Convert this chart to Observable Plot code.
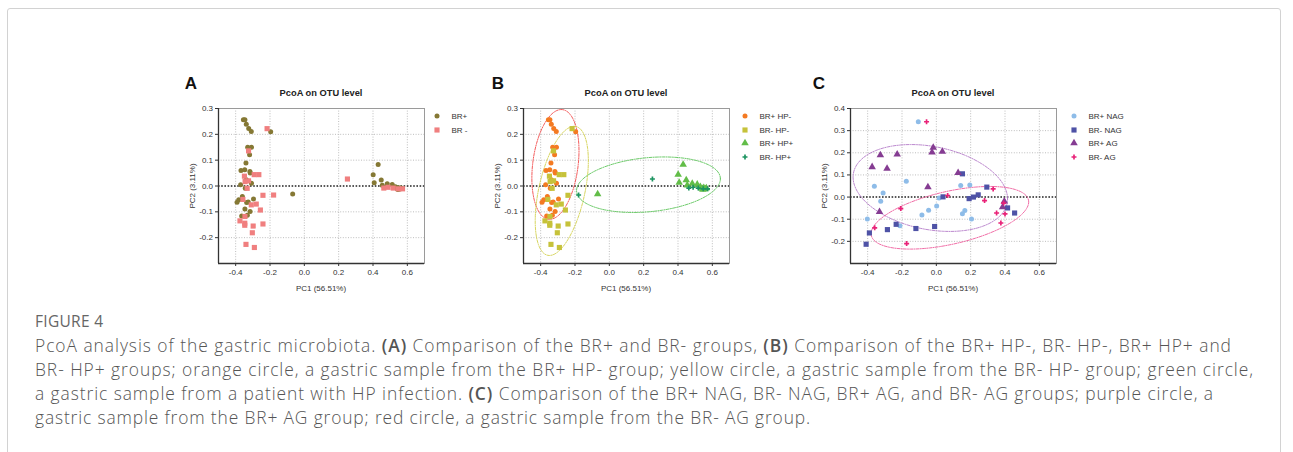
<!DOCTYPE html>
<html><head><meta charset="utf-8">
<script src="https://cdn.jsdelivr.net/npm/d3@7"></script>
<script src="https://cdn.jsdelivr.net/npm/@observablehq/plot@0.6"></script>
<style>
html,body{margin:0;padding:0;background:#fff;}
body{width:1293px;height:452px;overflow:hidden;position:relative;font-family:"Liberation Sans",Arial,sans-serif;}
#box{position:absolute;left:7px;top:8px;width:1272px;height:480px;border:1px solid #d2d2d2;border-radius:3px;}
.abs{position:absolute;white-space:nowrap;}
.letter{font-size:17px;font-weight:bold;color:#111;transform:translate(-50%,-50%);}
.title{font-size:9.3px;font-weight:bold;color:#222;transform:translate(-50%,-50%);}
.xlab{font-size:8px;color:#333;transform:translate(-50%,-50%);}
.ylab{font-size:8px;color:#333;transform:translate(-50%,-50%) rotate(-90deg);}
.leg{font-size:8px;color:#333;transform:translateY(-50%);}
#figlab{left:35px;top:310px;line-height:22px;font-family:"Open Sans",sans-serif;font-size:15.5px;font-weight:400;color:#666;letter-spacing:0.3px;}
#caption{left:35px;top:333px;font-family:"Open Sans",sans-serif;font-weight:300;color:#555;font-size:17.4px;line-height:24px;}
#caption div{white-space:nowrap;height:24px;}
#caption span{white-space:nowrap;}
#caption b{font-weight:600;color:#555;}
</style>
</head><body>
<div id="box"></div>
<div id="root"></div>
<div id="figlab" class="abs">FIGURE 4</div>
<div id="caption" class="abs">
<div><span id="cl1">PcoA analysis of the gastric microbiota. <b>(A)</b> Comparison of the BR+ and BR- groups, <b>(B)</b> Comparison of the BR+ HP-, BR- HP-, BR+ HP+ and</span></div>
<div><span id="cl2">BR- HP+ groups; orange circle, a gastric sample from the BR+ HP- group; yellow circle, a gastric sample from the BR- HP- group; green circle,</span></div>
<div><span id="cl3">a gastric sample from a patient with HP infection. <b>(C)</b> Comparison of the BR+ NAG, BR- NAG, BR+ AG, and BR- AG groups; purple circle, a</span></div>
<div><span id="cl4">gastric sample from the BR+ AG group; red circle, a gastric sample from the BR- AG group.</span></div>
</div>
<script>
// ---------------- DATA (PC1, PC2) ----------------
// Panels A and B share the same samples
const brPosHpNeg = [[-0.355,0.256],[-0.346,0.256],[-0.338,0.239],[-0.324,0.223],[-0.309,0.211],[-0.196,0.210],[-0.330,0.150],[-0.308,0.150],[-0.319,0.121],[-0.340,0.089],[-0.369,0.060],[-0.347,0.063],[-0.317,0.056],[-0.315,0.050],[-0.338,0.024],[-0.308,0.011],[-0.371,0.005],[-0.344,-0.009],[-0.361,-0.041],[-0.296,-0.050],[-0.382,-0.053],[-0.392,-0.063],[-0.336,-0.064],[-0.327,-0.062],[-0.346,-0.089],[-0.316,-0.099],[-0.365,-0.116],[-0.332,-0.113]];
const brNegHpNeg = [[-0.217,0.222],[-0.325,0.136],[-0.292,0.044],[-0.265,0.044],[-0.349,0.038],[-0.345,0.017],[-0.325,0.020],[-0.333,-0.009],[-0.241,-0.036],[-0.358,-0.052],[-0.280,-0.070],[-0.309,-0.073],[-0.256,-0.093],[-0.375,-0.135],[-0.347,-0.144],[-0.347,-0.152],[-0.298,-0.155],[-0.241,-0.147],[-0.303,-0.181],[-0.340,-0.226],[-0.291,-0.238],[-0.346,-0.118]];
const brPosHpPos = [[-0.068,-0.031],[0.401,0.044],[0.430,0.083],[0.407,0.013],[0.448,0.023],[0.454,0.003],[0.483,0.009],[0.512,0.006],[0.530,-0.003],[0.540,-0.010],[0.550,-0.007],[0.557,-0.012],[0.545,-0.014],[0.565,-0.008]];
const brNegHpPos = [[-0.179,-0.035],[0.251,0.027],[0.463,-0.008],[0.488,-0.005],[0.518,-0.008],[0.547,-0.011],[0.572,-0.011]];
// Panel C
const brPosNag = [[-0.105,0.340],[-0.361,0.049],[-0.310,0.018],[-0.324,-0.019],[-0.175,0.072],[-0.402,-0.099],[-0.212,-0.130],[-0.084,-0.081],[-0.045,-0.060],[0.002,-0.040],[0.016,-0.004],[0.142,0.052],[0.195,0.055],[0.152,-0.075],[0.166,-0.061],[0.205,-0.099]];
const brNegNag = [[-0.409,-0.213],[-0.390,-0.162],[-0.285,-0.147],[-0.234,-0.123],[-0.119,-0.142],[-0.010,-0.133],[0.039,0.001],[0.152,0.105],[0.191,-0.007],[0.216,0.000],[0.244,0.010],[0.294,0.045],[0.415,-0.049],[0.456,-0.072]];
const brPosAg = [[-0.374,0.136],[-0.326,0.190],[-0.287,0.129],[-0.228,0.193],[-0.331,-0.067],[-0.025,0.202],[-0.018,0.223],[0.035,0.205],[-0.049,0.045],[0.127,0.109],[0.396,-0.019],[0.386,-0.045]];
const brNegAg = [[-0.057,0.340],[-0.359,-0.139],[-0.207,-0.052],[-0.173,-0.210],[0.066,0.007],[0.281,-0.016],[0.331,0.037],[0.351,-0.072],[0.392,-0.027],[0.400,-0.076],[0.376,-0.117]];
// Group ellipses: [centerX, centerY, u.x, u.y, v.x, v.y]  (point = c + u cos t + v sin t)
const ellBrPosHpNeg = [-0.314, 0.0835, 0.034, 0.2125, 0.133, 0];
const ellBrNegHpNeg = [-0.277, -0.019, 0.072, 0.25, 0.137, 0];
const ellHpPos      = [0.228, 0.005, 0.419, 0.023, 0, 0.105];
const ellBrPosAg    = [-0.035, 0.041, 0.45, -0.049, 0, 0.19];
const ellBrNegAg    = [0.079, -0.0935, 0.459, 0.0716, 0, 0.122];
// Axis ticks
const xTicks = [-0.4, -0.2, 0.0, 0.2, 0.4, 0.6];
const yTicksAB = [-0.2, -0.1, 0.0, 0.1, 0.2, 0.3];
const yTicksC = [-0.2, -0.1, 0.0, 0.1, 0.2, 0.3, 0.4];
const xLabel = "PC1 (56.51%)", yLabel = "PC2 (3.11%)", panelTitle = "PcoA on OTU level";

// ---------------- DRAW ----------------
const root = document.getElementById("root");
const fmt = d => d.toFixed(1);
function ellipse(e) {
  return d3.range(0, 97).map(i => {
    const t = i / 96 * 2 * Math.PI;
    return {x: e[0] + e[2]*Math.cos(t) + e[4]*Math.sin(t), y: e[1] + e[3]*Math.cos(t) + e[5]*Math.sin(t)};
  });
}
function addDiv(cls, text, x, y) {
  const d = document.createElement("div");
  d.className = "abs " + cls; d.textContent = text;
  d.style.left = x + "px"; d.style.top = y + "px";
  root.appendChild(d); return d;
}
const symMap = {circle: d3.symbolCircle, square: d3.symbolSquare, triangle: d3.symbolTriangle, cross: d3.symbolCross};

function panel(o) {
  const W = 265, H = 240, top = 60;
  const mL = 48, mR = 11, mT = 48, mB = 37;
  const fx0 = o.left + mL, fx1 = o.left + W - mR, fy0 = top + mT, fy1 = top + H - mB;
  const marks = [
    Plot.gridX(xTicks, {stroke: "#bdbdbd", strokeOpacity: 1, strokeDasharray: "1,1.6"}),
    Plot.gridY(o.yGrid, {stroke: "#bdbdbd", strokeOpacity: 1, strokeDasharray: "1,1.6"}),
    Plot.frame({stroke: "#9a9a9a", strokeWidth: 1}),
    Plot.ruleY([0], {stroke: "#222", strokeWidth: 1.4, strokeDasharray: "1.6,1.6"})
  ];
  for (const e of o.ellipses) marks.push(Plot.line(ellipse(e.p), {x: "x", y: "y", stroke: e.color, strokeWidth: 0.9, strokeDasharray: "3,1.2,1,1.2"}));
  for (const g of o.groups) marks.push(Plot.dot(g.data, {x: d => d[0], y: d => d[1], symbol: g.symbol, fill: g.color, stroke: "none", r: g.r}));
  marks.push(
    Plot.ruleX([o.xDomain[0]], {stroke: "#333", strokeWidth: 1.3}),
    Plot.ruleY([o.yDomain[0]], {stroke: "#333", strokeWidth: 1.3}),
    Plot.axisX(xTicks, {tickSize: 3, tickPadding: 2.5, tickFormat: fmt, label: null, fontSize: 8, stroke: "#333"}),
    Plot.axisY(o.yTicks, {tickSize: 3, tickPadding: 2.5, tickFormat: fmt, label: null, fontSize: 8, stroke: "#333"})
  );
  const chart = Plot.plot({
    width: W, height: H, marginLeft: mL, marginRight: mR, marginTop: mT, marginBottom: mB,
    x: {domain: o.xDomain}, y: {domain: o.yDomain},
    style: {fontFamily: "'Liberation Sans', Arial, sans-serif", fontSize: "8px", color: "#333", background: "transparent", overflow: "visible"},
    marks
  });
  chart.style.position = "absolute"; chart.style.left = o.left + "px"; chart.style.top = top + "px";
  root.appendChild(chart);
  const cx = (fx0 + fx1) / 2, cy = (fy0 + fy1) / 2;
  addDiv("letter", o.letter, o.letterX, 84);
  addDiv("title", panelTitle, cx, 92.8);
  addDiv("xlab", xLabel, cx, 287.8);
  addDiv("ylab", yLabel, fx0 - 26, cy);
  // legend
  o.groups.forEach((g, i) => {
    const y = 116 + i * 13.7;
    const s = d3.create("svg").attr("width", 10).attr("height", 10)
      .style("position", "absolute").style("left", (o.legX - 5) + "px").style("top", (y - 5) + "px");
    s.append("path").attr("transform", "translate(5,5)")
      .attr("d", d3.symbol(symMap[g.symbol], Math.PI * g.r * g.r)()).attr("fill", g.color);
    root.appendChild(s.node());
    addDiv("leg", g.name, o.legX + 14.5, y);
  });
}

const XD = [-0.5, 0.7];
panel({left: 170, letter: "A", letterX: 191, xDomain: XD, yDomain: [-0.3, 0.3], yTicks: yTicksAB, yGrid: [-0.2,-0.1,0.1,0.2],
  ellipses: [], legX: 437,
  groups: [
    {name: "BR+", data: brPosHpNeg.concat(brPosHpPos), symbol: "circle", color: "#857834", r: 2.5},
    {name: "BR -", data: brNegHpNeg.concat(brNegHpPos), symbol: "square", color: "#f07f7f", r: 2.9}
  ]});
panel({left: 475, letter: "B", letterX: 498, xDomain: XD, yDomain: [-0.3, 0.3], yTicks: yTicksAB, yGrid: [-0.2,-0.1,0.1,0.2],
  legX: 745,
  ellipses: [
    {p: ellBrPosHpNeg, color: "#f24a4a"},
    {p: ellBrNegHpNeg, color: "#d2d04e"},
    {p: ellHpPos, color: "#5ec55a"}
  ],
  groups: [
    {name: "BR+ HP-", data: brPosHpNeg, symbol: "circle", color: "#f47a22", r: 2.5},
    {name: "BR- HP-", data: brNegHpNeg, symbol: "square", color: "#c6c23a", r: 2.9},
    {name: "BR+ HP+", data: brPosHpPos, symbol: "triangle", color: "#62bd48", r: 2.8},
    {name: "BR- HP+", data: brNegHpPos, symbol: "cross", color: "#1c9460", r: 2.1}
  ]});
panel({left: 802, letter: "C", letterX: 819, xDomain: XD, yDomain: [-0.3, 0.4], yTicks: yTicksC, yGrid: [-0.2,-0.1,0.1,0.2,0.3],
  legX: 1074,
  ellipses: [
    {p: ellBrPosAg, color: "#b47cc8"},
    {p: ellBrNegAg, color: "#ee5c9c"}
  ],
  groups: [
    {name: "BR+ NAG", data: brPosNag, symbol: "circle", color: "#8ebce8", r: 2.5},
    {name: "BR- NAG", data: brNegNag, symbol: "square", color: "#4e52a6", r: 2.9},
    {name: "BR+ AG", data: brPosAg, symbol: "triangle", color: "#853c92", r: 2.8},
    {name: "BR- AG", data: brNegAg, symbol: "cross", color: "#e92278", r: 2.1}
  ]});

// caption: stretch each line's tracking so that it ends where the figure's line ends (left edge 35px)
(function () {
  const ends = [1232, 1254, 1214, 811];
  ["cl1", "cl2", "cl3", "cl4"].forEach((id, i) => {
    const el = document.getElementById(id);
    const w = el.getBoundingClientRect().width;
    const n = el.textContent.length;
    el.style.letterSpacing = (((ends[i] - 35) - w) / n).toFixed(3) + "px";
  });
})();
</script>
</body></html>
